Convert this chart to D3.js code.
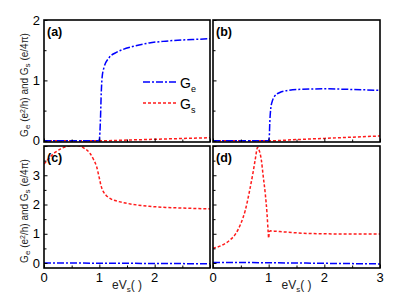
<!DOCTYPE html>
<html>
<head>
    <meta charset="utf-8">
    <script src="https://cdn.jsdelivr.net/npm/d3@7/dist/d3.min.js"></script>
    <style>
        body { margin: 0; background: #fff; }
        text { font-family: "Liberation Sans", Arial, sans-serif; }
    </style>
</head>
<body>
    <svg width="415" height="298" id="mainsvg"></svg>
    <script>
        // curves, [eVs, value]
        const geA = [[0, 0], [0.98, 0], [1.0, 0.02], [1.02, 0.35], [1.035, 0.8], [1.05, 1.05], [1.08, 1.2], [1.18, 1.38], [1.3, 1.46], [1.42, 1.51], [1.6, 1.56], [1.9, 1.62], [2.2, 1.65], [2.5, 1.67], [2.75, 1.68], [3, 1.69]];
        const gsA = [[0, 0], [1, 0], [1.5, 0.012], [2, 0.025], [2.5, 0.038], [3, 0.05]];
        const geB = [[0, 0], [0.99, 0], [1.01, 0.05], [1.02, 0.3], [1.04, 0.55], [1.07, 0.67], [1.1, 0.73], [1.2, 0.8], [1.32, 0.83], [1.5, 0.85], [2, 0.86], [2.5, 0.85], [3, 0.835]];
        const gsB = [[0, 0], [1, 0], [1.5, 0.02], [2, 0.04], [2.5, 0.06], [3, 0.08]];
        const gsC = [[0, 3.38], [0.1, 3.6], [0.2, 3.78], [0.3, 3.9], [0.45, 4.0], [0.6, 4.02], [0.72, 3.93], [0.83, 3.75], [0.9, 3.52], [0.95, 3.3], [1.0, 2.9], [1.03, 2.65], [1.07, 2.45], [1.12, 2.32], [1.2, 2.2], [1.35, 2.1], [1.5, 2.04], [1.7, 1.98], [1.9, 1.94], [2.2, 1.9], [2.5, 1.88], [3, 1.85]];
        const geC = [[0, 0], [1, -0.005], [2, -0.015], [3, -0.025]];
        const gsD = [[0, 0.5], [0.15, 0.6], [0.3, 0.78], [0.4, 0.98], [0.5, 1.35], [0.58, 1.8], [0.66, 2.5], [0.72, 3.1], [0.76, 3.55], [0.8, 3.95], [0.83, 3.85], [0.87, 3.5], [0.9, 3.0], [0.94, 2.35], [0.97, 1.7], [0.99, 1.1], [1.0, 0.85], [1.01, 1.05], [1.03, 1.1], [1.1, 1.09], [1.3, 1.06], [1.6, 1.02], [2, 1.0], [2.5, 0.99], [3, 0.99]];
        const geD = [[0, 0.02], [1, 0.01], [2, -0.01], [3, -0.03]];

        const xTicksC = [0, 1, 2];
        const xTicksD = [0, 1, 2, 3];
        const yTicksA = [0, 1, 2];
        const yTicksC = [0, 1, 2, 3];

        const svg = d3.select('#mainsvg');

        const panels = [
            { id: 'a', x0: 44, x1: 210, y0: 20, y1: 142, yDom: [-0.02, 2], ge: geA, gs: gsA, xt: null, yt: yTicksA },
            { id: 'b', x0: 213, x1: 380, y0: 20, y1: 142, yDom: [-0.02, 2], ge: geB, gs: gsB, xt: null, yt: null },
            { id: 'c', x0: 44, x1: 210, y0: 146, y1: 268, yDom: [-0.17, 4], ge: geC, gs: gsC, xt: xTicksC, yt: yTicksC },
            { id: 'd', x0: 213, x1: 380, y0: 146, y1: 268, yDom: [-0.17, 4], ge: geD, gs: gsD, xt: xTicksD, yt: null }
        ];

        panels.forEach(p => {
            const x = d3.scaleLinear().domain([0, 3]).range([p.x0, p.x1]);
            const y = d3.scaleLinear().domain(p.yDom).range([p.y1, p.y0]);
            const g = svg.append('g');

            g.append('clipPath').attr('id', 'clip' + p.id)
                .append('rect').attr('x', p.x0).attr('y', p.y0)
                .attr('width', p.x1 - p.x0).attr('height', p.y1 - p.y0);

            const line = d3.line().x(d => x(d[0])).y(d => y(d[1])).curve(d3.curveMonotoneX);

            g.append('path').datum(p.gs)
                .attr('clip-path', `url(#clip${p.id})`)
                .attr('d', line).attr('fill', 'none')
                .attr('stroke', '#ff1a1a').attr('stroke-width', 1.5)
                .attr('stroke-dasharray', '3,2');
            g.append('path').datum(p.ge)
                .attr('clip-path', `url(#clip${p.id})`)
                .attr('d', line).attr('fill', 'none')
                .attr('stroke', '#0000ff').attr('stroke-width', 1.5)
                .attr('stroke-dasharray', '7,2,2,2');

            // inward ticks
            const xAxis = d3.axisTop(x).tickValues(d3.range(0, 3.01, 0.5))
                .tickSize(0).tickFormat('');
            const ga = g.append('g').attr('transform', `translate(0,${p.y1})`).call(xAxis);
            ga.select('.domain').remove();
            ga.selectAll('.tick line').attr('y2', d => (d % 1 === 0 ? -3.5 : -2.5)).attr('stroke', '#000');

            const yStep = p.yDom[1] > 3 ? d3.range(0, 4.01, 0.5) : d3.range(0, 2.01, 0.5);
            const yAxis = d3.axisRight(y).tickValues(yStep).tickSize(0).tickFormat('');
            const gy = g.append('g').attr('transform', `translate(${p.x0},0)`).call(yAxis);
            gy.select('.domain').remove();
            gy.selectAll('.tick line').attr('x2', d => (d % 1 === 0 ? 3.5 : 2.5)).attr('stroke', '#000');

            g.append('rect').attr('x', p.x0).attr('y', p.y0)
                .attr('width', p.x1 - p.x0).attr('height', p.y1 - p.y0)
                .attr('fill', 'none').attr('stroke', '#000').attr('stroke-width', 1.6);

            if (p.xt) {
                g.selectAll('.xl').data(p.xt).join('text')
                    .attr('x', d => x(d)).attr('y', p.y1 + 14)
                    .attr('text-anchor', 'middle').attr('font-size', 13)
                    .text(d => d);
            }
            if (p.yt) {
                g.selectAll('.yl').data(p.yt).join('text')
                    .attr('x', p.x0 - 4).attr('y', d => y(d) + 4.5)
                    .attr('text-anchor', 'end').attr('font-size', 13)
                    .text(d => d);
            }

            g.append('text').attr('x', p.x0 + 3).attr('y', p.y0 + 16)
                .attr('font-size', 12.5).attr('font-weight', 'bold')
                .text('(' + p.id + ')');

            if (p.id === 'a' || p.id === 'c') {
                const t = svg.append('text')
                    .attr('transform', `translate(28,${(p.y0 + p.y1) / 2 + 4}) rotate(-90)`)
                    .attr('text-anchor', 'middle').attr('font-size', 10).attr('fill', '#222');
                t.append('tspan').text('G');
                t.append('tspan').attr('font-size', 8).attr('dy', 2).text('e');
                t.append('tspan').attr('dy', -2).text(' (e');
                t.append('tspan').attr('font-size', 7).attr('dy', -3).text('2');
                t.append('tspan').attr('dy', 3).text('/h) and G');
                t.append('tspan').attr('font-size', 8).attr('dy', 2).text('s');
                t.append('tspan').attr('dy', -2).text(' (e/4π)');
            }
            if (p.id === 'c' || p.id === 'd') {
                const t = svg.append('text')
                    .attr('x', (p.x0 + p.x1) / 2).attr('y', 289)
                    .attr('text-anchor', 'middle').attr('font-size', 12).attr('fill', '#222');
                t.append('tspan').text('eV');
                t.append('tspan').attr('font-size', 8).attr('dy', 3).text('s');
                t.append('tspan').attr('dy', -3).text('( )');
            }
        });

        // legend in panel (a)
        const legend = [
            { name: 'e', color: '#0000ff', dash: '7,2,2,2', y: 82 },
            { name: 's', color: '#ff1a1a', dash: '3,2', y: 103 }
        ];
        legend.forEach(l => {
            svg.append('line').attr('x1', 143).attr('x2', 178)
                .attr('y1', l.y).attr('y2', l.y)
                .attr('stroke', l.color).attr('stroke-width', 1.5)
                .attr('stroke-dasharray', l.dash);
            const t = svg.append('text').attr('x', 180).attr('y', l.y + 5.5)
                .attr('font-size', 14);
            t.append('tspan').text('G');
            t.append('tspan').attr('font-size', 9).attr('dy', 4).text(l.name);
        });
    </script>
</body>
</html>
